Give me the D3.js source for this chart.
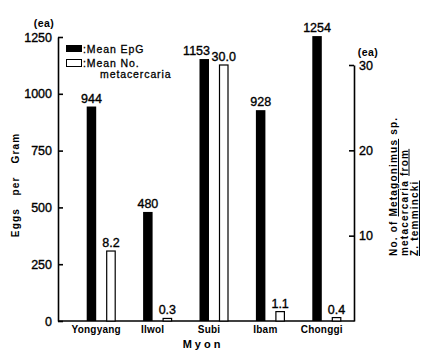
<!DOCTYPE html>
<html><head><meta charset="utf-8">
<script src="https://cdn.jsdelivr.net/npm/d3@7"></script>
<style>body{margin:0;background:#fff}svg{display:block}text{font-family:"Liberation Sans",Arial,sans-serif;fill:#000}</style>
</head><body><svg id="c" width="432" height="361"></svg>
<script>
const categories = ["Yongyang", "Ilwol", "Subi", "Ibam", "Chonggi"];
const meanEpG = [944, 480, 1153, 928, 1254];
const meanMeta = [8.2, 0.3, 30.0, 1.1, 0.4];
const leftTicks = [0, 250, 500, 750, 1000, 1250];
const rightTicks = [10, 20, 30];
const seriesKeys = ["epg", "meta"];

const svg = d3.select("#c");
const x0 = d3.scaleBand().domain(categories).range([73, 355]).padding(0);
const xs = d3.scaleBand().domain(seriesKeys).range([-14.5, 14.5]).paddingInner(0.513).paddingOuter(0);
const yL = d3.scaleLinear().domain([0, 1250]).range([321, 37]);
const yR = d3.scaleLinear().domain([0, 30]).range([321, 65]);

const data = categories.map((c, i) => ({c, epg: meanEpG[i], meta: meanMeta[i]}));
const numStyle = sel => sel.style("font-size", "12.5px").style("font-family", '"Liberation Sans",Arial,sans-serif')
  .attr("fill", "#000").attr("stroke", "#000").attr("stroke-width", 0.35);

// axes
const gL = svg.append("g").attr("transform", "translate(58,0)")
  .call(d3.axisLeft(yL).tickValues(leftTicks).tickSizeInner(-5).tickSizeOuter(0).tickPadding(6).tickFormat(d3.format("d")));
const gR = svg.append("g").attr("transform", "translate(354,0)")
  .call(d3.axisRight(yR).tickValues(rightTicks).tickSizeInner(-5).tickSizeOuter(0).tickPadding(5).tickFormat(d3.format("d")));
[gL, gR].forEach(g => {
  g.selectAll("path,line").attr("stroke", "#000").attr("stroke-width", 1.6);
  g.selectAll("text").call(numStyle);
});
svg.append("line").attr("x1", 58).attr("x2", 354.5).attr("y1", yL(0)).attr("y2", yL(0)).attr("stroke", "#000").attr("stroke-width", 1.6);

svg.append("text").attr("x", 44).attr("y", 27).attr("text-anchor", "middle").style("font-size", "10.5px").style("font-weight", "bold").style("letter-spacing", "0.5px").text("(ea)");
svg.append("text").attr("x", 368).attr("y", 56).attr("text-anchor", "middle").style("font-size", "10.5px").style("font-weight", "bold").style("letter-spacing", "0.5px").text("(ea)");

// bars
const g = svg.append("g").selectAll("g").data(data).join("g")
  .attr("transform", d => `translate(${x0(d.c) + x0.bandwidth() / 2},0)`);
g.append("rect").attr("x", xs("epg")).attr("width", xs.bandwidth())
  .attr("y", d => yL(d.epg)).attr("height", d => yL(0) - yL(d.epg)).attr("fill", "#000");
g.append("rect").attr("x", xs("meta") + 0.5).attr("width", xs.bandwidth() - 1)
  .attr("y", d => yR(d.meta)).attr("height", d => yR(0) - yR(d.meta)).attr("fill", "#fff").attr("stroke", "#000").attr("stroke-width", 1.2);
// EpG labels: centred on the bar, unless the neighbouring label sits at the same height
g.append("text")
  .attr("x", d => Math.abs(yL(d.epg) - yR(d.meta)) < 13 ? xs("epg") + xs.bandwidth() + 1 : xs("epg") + xs.bandwidth() / 2)
  .attr("text-anchor", d => Math.abs(yL(d.epg) - yR(d.meta)) < 13 ? "end" : "middle")
  .attr("y", d => yL(d.epg) - 4)
  .call(numStyle).text(d => d3.format("d")(d.epg));
g.append("text").attr("x", xs("meta") + xs.bandwidth() / 2).attr("y", d => yR(d.meta) - 4)
  .attr("text-anchor", "middle").call(numStyle).text(d => d3.format(".1f")(d.meta));
g.append("text").attr("x", -5).attr("y", 333).attr("text-anchor", "middle")
  .style("font-size", "10px").style("font-weight", "bold").style("letter-spacing", "0.2px").text(d => d.c);

// axis titles
svg.append("text").attr("x", 203).attr("y", 347.5).attr("text-anchor", "middle")
  .style("font-size", "11px").style("font-weight", "bold").style("letter-spacing", "3px").text("Myon");
[["Eggs", 222.5], ["per", 186], ["Gram", 148]].forEach(([w, c]) => {
  svg.append("text").attr("transform", `translate(19,${c}) rotate(-90)`).attr("text-anchor", "middle")
    .style("font-size", "10px").style("font-weight", "bold").style("letter-spacing", "1.2px").text(w);
});

const rt = svg.append("g").attr("transform", "translate(0,256) rotate(-90)");
const lines = [
  [["No. of ", false], ["Metagonimus", true], [" sp.", false]],
  [["metacercaria ", false], ["from", true]],
  [["Z. temmincki", true]]
];
const lineX = [397, 407.5, 418];
lines.forEach((parts, i) => {
  const t = rt.append("text").attr("x", 0).attr("y", lineX[i]).style("font-size", "10px").style("font-weight", "bold").style("letter-spacing", "1.2px").attr("xml:space", "preserve");
  parts.forEach(([s, u]) => t.append("tspan").text(s).style("text-decoration", u ? "underline" : "none"));
});

// legend
svg.append("rect").attr("x", 66).attr("y", 45).attr("width", 16).attr("height", 7).attr("fill", "#000");
svg.append("rect").attr("x", 66.5).attr("y", 59.5).attr("width", 15).attr("height", 7).attr("fill", "#fff").attr("stroke", "#000").attr("stroke-width", 1);
const legStyle = sel => sel.style("font-size", "10.5px").style("letter-spacing", "0.9px").attr("stroke", "#000").attr("stroke-width", 0.3);
svg.append("text").attr("x", 83).attr("y", 52.5).call(legStyle).text(":Mean EpG");
svg.append("text").attr("x", 83).attr("y", 66.5).call(legStyle).text(":Mean No.");
svg.append("text").attr("x", 100).attr("y", 78).call(legStyle).text("metacercaria");
</script></body></html>
